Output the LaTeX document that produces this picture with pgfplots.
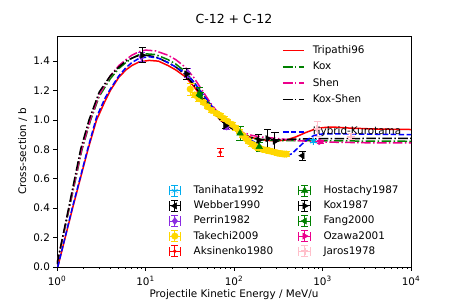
\documentclass[border=0pt]{standalone}
\usepackage{fontspec}
\setmainfont{DejaVu Sans}
\usepackage{pgfplots}
\pgfplotsset{compat=1.18}
\definecolor{mplgreen}{rgb}{0,0.5,0}
\definecolor{bviolet}{rgb}{0.541,0.169,0.886}
\definecolor{mgold}{rgb}{1,0.843,0}
\definecolor{mpink}{rgb}{1,0.753,0.796}
\tikzset{
  mdashdot/.style={dash pattern=on 9.6bp off 2.4bp on 1.5bp off 2.4bp},
  mdashed/.style={dash pattern=on 5.55bp off 2.4bp},
  fs/.style={font={\fontsize{10.4bp}{12bp}\selectfont}},
}
\begin{document}
\begin{tikzpicture}
\path[use as bounding box] (0,0) rectangle (457bp,305bp);
\begin{axis}[at={(57bp,38bp)}, anchor=south west, scale only axis,
  width=354bp, height=231bp, xmode=log, xmin=1, xmax=10000, ymin=0, ymax=1.571,
  axis line style={line width=0.8bp},
  tick style={line width=0.8bp, black},
  tick align=outside,
  xtick pos=bottom, ytick pos=left,
  major tick length=3.6bp, minor tick length=2.1bp,
  xtick={1,10,100,1000,10000},
  xticklabels={10\textsuperscript{0},10\textsuperscript{1},10\textsuperscript{2},10\textsuperscript{3},10\textsuperscript{4}},
  ytick={0,0.2,0.4,0.6,0.8,1.0,1.2,1.4},
  yticklabel style={fs, /pgf/number format/.cd, fixed, fixed zerofill, precision=1, assume math mode=true},
  xticklabel style={fs, anchor=base, yshift=-14.5bp, inner sep=0pt},
  title={C-12 + C-12},
  title style={font=\fontsize{12.5bp}{14bp}\selectfont, at={(axis description cs:0.5,1)}, anchor=base, yshift=6.5bp, inner sep=0pt},
  xlabel={Projectile Kinetic Energy / MeV/u},
  xlabel style={fs, at={(axis description cs:0.5,0)}, anchor=base, yshift=-30.5bp, inner sep=0pt},
  ylabel={Cross-section / b},
  ylabel style={fs, at={(axis description cs:-0.0969,0.5)}, anchor=center, inner sep=0pt, rotate=0},
  legend image code/.code={\draw[#1] (0bp,0bp) -- (20.8bp,0bp);},
  legend style={draw=none, fill=none, at={(0.6356,0.960)}, anchor=north west, inner sep=0pt,
    fs, row sep=6.1bp, nodes={fs, inner sep=0pt, text height=8bp, text depth=2.2bp},
    /tikz/every odd column/.append style={column sep=8.3bp}},
  legend cell align=left,
]
\addplot[red, solid, line width=1.5bp] coordinates {
(1.02,0.0) (1.5,0.40) (2.24,0.80) (2.8,1.0) (3.5,1.13) (4,1.2) (5,1.29) (6,1.34) (7,1.37)
(8.5,1.395) (11,1.405) (14,1.40) (18,1.37) (22,1.34) (28,1.295) (35,1.23) (45,1.14)
(55,1.07) (70,1.0) (90,0.95) (120,0.905) (160,0.88) (200,0.867) (250,0.86) (300,0.857)
(400,0.865) (500,0.885) (650,0.915) (800,0.935) (1000,0.948) (1300,0.952) (2000,0.945)
(4000,0.938) (10000,0.935)};
\addlegendentry{Tripathi96}
\addplot[mplgreen, mdashdot, line width=1.5bp] coordinates {
(1.0,0.02) (1.3,0.33) (1.92,0.80) (2.4,1.0) (3,1.16) (4,1.28) (5,1.35) (6,1.39) (7,1.42)
(8.5,1.445) (10,1.45) (13,1.445) (18,1.41) (22,1.38) (28,1.33) (35,1.26) (45,1.17)
(55,1.10) (70,1.02) (90,0.955) (120,0.905) (160,0.875) (200,0.865) (300,0.86)
(500,0.86) (1000,0.858) (10000,0.855)};
\addlegendentry{Kox}
\addplot[magenta, mdashdot, line width=1.5bp] coordinates {
(1.0,0.02) (1.3,0.34) (1.9,0.80) (2.4,1.01) (3,1.17) (4,1.30) (5,1.37) (6,1.41) (7,1.44)
(8.5,1.465) (10,1.475) (13,1.47) (18,1.44) (22,1.41) (28,1.36) (35,1.29) (45,1.19)
(55,1.11) (70,1.03) (90,0.965) (120,0.92) (160,0.895) (200,0.885) (300,0.875)
(500,0.86) (1000,0.85) (3000,0.845) (10000,0.845)};
\addlegendentry{Shen}
\addplot[black, mdashdot, line width=1.5bp] coordinates {
(1.0,0.02) (1.3,0.35) (1.85,0.80) (2.3,1.0) (3,1.19) (4,1.30) (5,1.36) (6,1.40) (7,1.42)
(8.5,1.44) (10,1.44) (13,1.43) (18,1.39) (22,1.36) (28,1.31) (35,1.24) (45,1.15)
(55,1.08) (70,1.0) (90,0.95) (120,0.905) (160,0.88) (200,0.868) (300,0.865)
(500,0.87) (1000,0.873) (10000,0.875)};
\addlegendentry{Kox-Shen}
\addlegendimage{empty legend}
\addlegendentry{}
\addplot[blue, mdashed, line width=1.5bp] coordinates {
(1.02,0.0) (1.5,0.41) (2.24,0.81) (2.8,1.02) (3.5,1.15) (4,1.21) (5,1.30) (6,1.355) (7,1.39)
(8.5,1.42) (11,1.43) (14,1.42) (18,1.39) (22,1.36) (28,1.32) (35,1.26) (45,1.17)
(55,1.10) (70,1.02) (90,0.96) (120,0.91) (160,0.86) (200,0.82) (250,0.79) (300,0.77)
(380,0.755) (450,0.77) (550,0.82) (650,0.86) (800,0.895) (1000,0.905) (2000,0.905)
(10000,0.90)};
\addlegendentry{Hybrid-Kurotama}
\end{axis}
\begin{axis}[at={(57bp,38bp)}, anchor=south west, scale only axis,
  width=354bp, height=231bp, xmode=log, xmin=1, xmax=10000, ymin=0, ymax=1.571,
  hide axis,
  /pgfplots/error bars/y dir=both, /pgfplots/error bars/y explicit,
  /pgfplots/error bars/error bar style={line width=0.9bp},
  /pgfplots/error bars/error mark options={rotate=90, mark size=3.6bp, line width=0.9bp},
  legend columns=2,
  legend image code/.code={
     \path (0bp,0bp) (20.8bp,0bp);
     \draw[#1, mark=none, solid, line width=0.9bp]
       (4.6bp,0bp) -- (16.2bp,0bp) (4.6bp,-4.6bp)--(4.6bp,4.6bp) (16.2bp,-4.6bp)--(16.2bp,4.6bp)
       (10.4bp,-5.4bp)--(10.4bp,5.4bp) (6.8bp,-5.4bp)--(14bp,-5.4bp) (6.8bp,5.4bp)--(14bp,5.4bp);
     \draw[#1, only marks] plot coordinates {(10.4bp,0bp)};},
  legend style={draw=none, fill=none, at={(0.3023,0.356)}, anchor=north west, inner sep=0pt,
    fs, row sep=3.4bp, nodes={fs, inner sep=0pt, text height=8bp, text depth=2.2bp},
    /tikz/every odd column/.append style={column sep=8.3bp},
    /tikz/every even column/.append style={column sep=20.8bp}},
  legend cell align=left,
]
% Tanihata1992
\addplot[cyan, only marks, mark=asterisk, mark size=3.6bp, mark options={line width=1bp}, forget plot]
 table[x=x, y=y, y error=e] {
x y e
790 0.855 0.01
};
% Webber1990
\addplot[black, only marks, mark=triangle*, mark size=3.6bp, mark options={rotate=90}, forget plot]
 table[x=x, y=y, y error=e] {
x y e
592 0.757 0.03
};
% Perrin1982
\addplot[bviolet, only marks, mark=diamond*, mark size=3.6bp, forget plot]
 table[x=x, y=y, y error=e] {
x y e
9.0 1.43 0.03
30 1.32 0.03
83 0.955 0.02
};
% Takechi2009
\addplot[mgold, only marks, mark=*, mark size=3.3bp, forget plot]
 table[x=x, y=y, y error=e] {
x y e
32 1.21 0.04
36 1.17 0.02
40 1.145 0.02
45 1.12 0.015
50 1.09 0.015
56 1.065 0.015
63 1.045 0.015
70 1.03 0.015
77 1.01 0.015
85 0.99 0.015
95 0.97 0.015
105 0.945 0.015
115 0.92 0.015
125 0.895 0.015
135 0.875 0.015
145 0.855 0.015
160 0.835 0.015
175 0.82 0.015
190 0.81 0.015
210 0.80 0.015
230 0.795 0.015
250 0.79 0.015
270 0.785 0.015
290 0.78 0.015
310 0.775 0.015
330 0.772 0.015
350 0.77 0.015
370 0.768 0.015
390 0.768 0.015
};
% Aksinenko1980
\addplot[red, only marks, mark=*, mark size=1.6bp, forget plot]
 table[x=x, y=y, y error=e] {
x y e
70 0.78 0.025
};
% Hostachy1987
\addplot[mplgreen, only marks, mark=triangle*, mark size=3.8bp, forget plot]
 table[x=x, y=y, y error=e] {
x y e
40.5 1.177 0.045
117 0.91 0.047
193 0.818 0.03
};
% Kox1987
\addplot[black, only marks, mark=triangle*, mark size=3.6bp, mark options={rotate=-90}, forget plot]
 table[x=x, y=y, y error=e] {
x y e
9.2 1.44 0.05
29.2 1.313 0.04
80 0.961 0.02
190 0.862 0.04
240 0.873 0.065
290 0.855 0.06
};
% Fang2000
\addplot[mplgreen, only marks, mark=triangle*, mark size=3.6bp, mark options={rotate=90}, forget plot]
 table[x=x, y=y, y error=e] {
x y e
42 1.16 0.03
};
% Ozawa2001
\addplot[magenta, only marks, mark=triangle*, mark size=3.6bp, mark options={rotate=-90}, forget plot]
 table[x=x, y=y, y error=e] {
x y e
950 0.852 0.01
};
% Jaros1978
\addplot[mpink, only marks, mark=+, mark size=3.6bp, mark options={line width=2bp}, forget plot]
 table[x=x, y=y, y error=e] {
x y e
870 0.94 0.05
2100 0.885 0.02
};
\addlegendimage{cyan, only marks, mark=asterisk, mark size=3.6bp}
\addlegendentry{Tanihata1992}
\addlegendimage{mplgreen, only marks, mark=triangle*, mark size=3.8bp}
\addlegendentry{Hostachy1987}
\addlegendimage{black, only marks, mark=triangle*, mark size=3.6bp, mark options={rotate=90}}
\addlegendentry{Webber1990}
\addlegendimage{black, only marks, mark=triangle*, mark size=3.6bp, mark options={rotate=-90}}
\addlegendentry{Kox1987}
\addlegendimage{bviolet, only marks, mark=diamond*, mark size=3.6bp}
\addlegendentry{Perrin1982}
\addlegendimage{mplgreen, only marks, mark=triangle*, mark size=3.6bp, mark options={rotate=90}}
\addlegendentry{Fang2000}
\addlegendimage{mgold, only marks, mark=*, mark size=3.3bp}
\addlegendentry{Takechi2009}
\addlegendimage{magenta, only marks, mark=triangle*, mark size=3.6bp, mark options={rotate=-90}}
\addlegendentry{Ozawa2001}
\addlegendimage{red, only marks, mark=*, mark size=1.6bp}
\addlegendentry{Aksinenko1980}
\addlegendimage{mpink, only marks, mark=+, mark size=3.6bp, mark options={line width=2bp}}
\addlegendentry{Jaros1978}
\end{axis}
\end{tikzpicture}
\end{document}
